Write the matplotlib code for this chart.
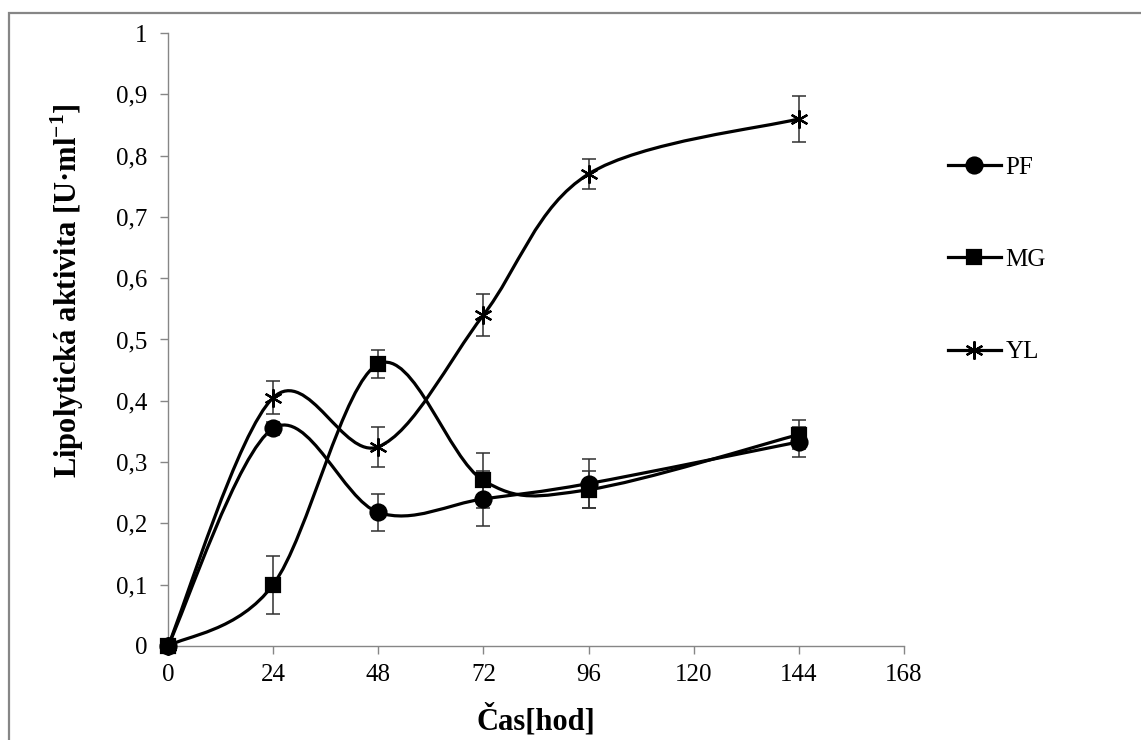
import matplotlib
matplotlib.use("Agg")
import matplotlib.pyplot as plt
from matplotlib.path import Path
from matplotlib.patches import PathPatch, Rectangle
from matplotlib.lines import Line2D
from matplotlib.ticker import FuncFormatter, MultipleLocator

# values
hours = [0, 24, 48, 72, 96, 144]
pf = [0, 0.355, 0.218, 0.24, 0.265, 0.333]
pfErr = [0, 0.01, 0.03, 0.045, 0.04, 0.025]
mg = [0, 0.10, 0.46, 0.27, 0.255, 0.345]
mgErr = [0, 0.047, 0.023, 0.045, 0.03, 0.024]
yl = [0, 0.405, 0.325, 0.54, 0.77, 0.86]
ylErr = [0, 0.027, 0.033, 0.035, 0.025, 0.038]
xTicks = [0, 24, 48, 72, 96, 120, 144, 168]

plt.rcParams['font.family'] = ['Liberation Serif', 'DejaVu Serif']
plt.rcParams['mathtext.fontset'] = 'custom'
plt.rcParams['mathtext.rm'] = 'Liberation Serif'
plt.rcParams['mathtext.bf'] = 'Liberation Serif:bold'

GRAY = '#868686'


def smoothPath(xs, ys):
    """Excel-like smoothed line: cubic bezier through the points (catmull-rom control points)."""
    pts = list(zip(xs, ys))
    n = len(pts)
    verts = [pts[0]]
    codes = [Path.MOVETO]
    for i in range(n - 1):
        p0 = pts[i - 1] if i > 0 else pts[i]
        p1 = pts[i]
        p2 = pts[i + 1]
        p3 = pts[i + 2] if i + 2 < n else pts[i + 1]
        c1 = (p1[0] + (p2[0] - p0[0]) / 6, p1[1] + (p2[1] - p0[1]) / 6)
        c2 = (p2[0] - (p3[0] - p1[0]) / 6, p2[1] - (p3[1] - p1[1]) / 6)
        verts += [c1, c2, p2]
        codes += [Path.CURVE4] * 3
    return Path(verts, codes)


fig = plt.figure(figsize=(11.41, 7.40), dpi=100)
ax = fig.add_axes([168 / 1141, 1 - 646 / 740, 736 / 1141, 613 / 740])

series = [
    ('PF', pf, pfErr, 'o', 11.5),
    ('MG', mg, mgErr, 's', 9.5),
    ('YL', yl, ylErr, (6, 2, 0), 13),
]

handles = []
for name, vals, err, mk, ms in series:
    ax.add_patch(PathPatch(smoothPath(hours, vals), fill=False, ec='black', lw=2.3,
                           capstyle='round', joinstyle='round', zorder=2, clip_on=False))
    ax.errorbar(hours, vals, yerr=err, fmt='none', ecolor='#303030', elinewidth=1.1,
                capsize=5, capthick=1.1, zorder=3)
    ax.plot(hours, vals, ls='none', marker=mk, ms=ms, color='black', mec='black',
            mew=1.6, zorder=4, clip_on=False)
    handles.append(Line2D([], [], color='black', lw=2.3, marker=mk, ms=ms, mew=1.6, label=name))

ax.set_xlim(0, 168)
ax.set_ylim(0, 1)
ax.set_xticks(xTicks)
ax.yaxis.set_major_locator(MultipleLocator(0.1))
ax.yaxis.set_major_formatter(FuncFormatter(lambda v, p: ('%g' % round(v, 1)).replace('.', ',')))

for s in ['top', 'right']:
    ax.spines[s].set_visible(False)
for s in ['left', 'bottom']:
    ax.spines[s].set_color(GRAY)
    ax.spines[s].set_linewidth(1.0)
ax.tick_params(axis='both', colors=GRAY, labelcolor='black', labelsize=18, length=6, width=1.0)
ax.tick_params(axis='y', pad=9)
ax.tick_params(axis='x', pad=7)

ax.set_ylabel('Lipolytická aktivita [U·ml$^{\\mathbf{-1}}$]', fontsize=22, fontweight='bold')
ax.yaxis.set_label_coords(-0.112, 0.58)
ax.set_xlabel('Čas[hod]', fontsize=22, fontweight='bold')
ax.xaxis.set_label_coords(0.5, -0.095)

fig.legend(handles=handles, loc='upper left', bbox_to_anchor=(948 / 1141, 1 - 156 / 740),
           frameon=False, fontsize=18, handlelength=2.1, handletextpad=0.2,
           labelspacing=2.8, borderpad=0, borderaxespad=0)

# grey chart-area border (cut at right and bottom)
fig.add_artist(Rectangle((9 / 1141, -0.1), 1.2, 1.1 - 13 / 740, transform=fig.transFigure,
                         fill=False, ec=GRAY, lw=1.6))

plt.savefig('out.png', dpi=100)
plt.close()
